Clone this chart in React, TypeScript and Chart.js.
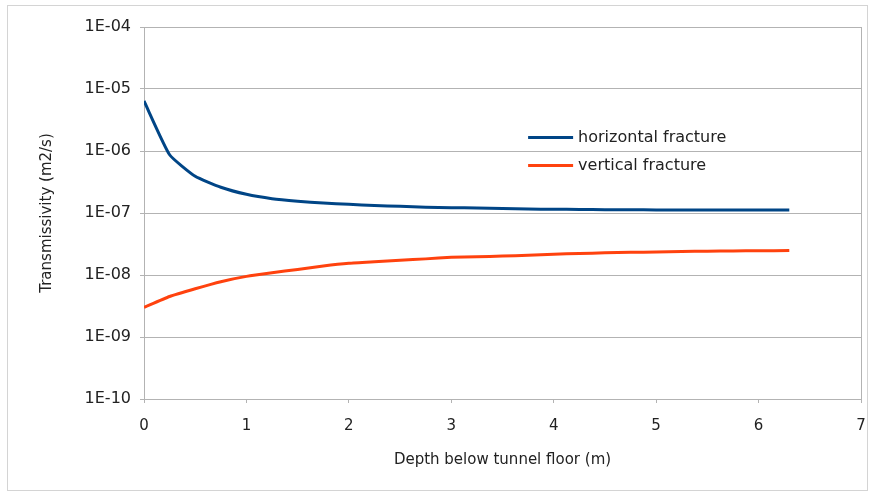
import React, { useEffect, useRef } from "react";
import { Chart, registerables } from "chart.js";

Chart.register(...registerables);

const depths = [0, 0.25, 0.5, 0.75, 1, 1.25, 1.5, 1.75, 2, 2.25, 2.5, 2.75, 3, 3.25, 3.5, 3.75, 4, 4.25, 4.5, 4.75, 5, 5.25, 5.5, 5.75, 6, 6.3];

const horizontalFracture = [
  6.4e-6, 8.7e-7, 3.9e-7, 2.6e-7, 2.0e-7, 1.7e-7, 1.55e-7, 1.45e-7, 1.38e-7, 1.32e-7,
  1.28e-7, 1.24e-7, 1.22e-7, 1.2e-7, 1.18e-7, 1.16e-7, 1.15e-7, 1.14e-7, 1.13e-7, 1.13e-7,
  1.12e-7, 1.12e-7, 1.12e-7, 1.12e-7, 1.12e-7, 1.12e-7,
];

const verticalFracture = [
  3.0e-9, 4.5e-9, 6.0e-9, 7.8e-9, 9.5e-9, 1.09e-8, 1.23e-8, 1.4e-8, 1.55e-8, 1.64e-8,
  1.73e-8, 1.82e-8, 1.93e-8, 1.97e-8, 2.02e-8, 2.08e-8, 2.17e-8, 2.22e-8, 2.28e-8, 2.32e-8,
  2.35e-8, 2.4e-8, 2.42e-8, 2.44e-8, 2.46e-8, 2.48e-8,
];

const yTickValues = [1e-10, 1e-9, 1e-8, 1e-7, 1e-6, 1e-5, 1e-4];
const seriesLabels = ["horizontal fracture", "vertical fracture"];
const seriesColors = ["#004586", "#ff420e"];

const FONT = "'DejaVu Sans', 'Liberation Sans', sans-serif";

function formatSci(v: number): string {
  const exp = Math.round(Math.log10(v));
  const sign = exp < 0 ? "-" : "+";
  return "1E" + sign + String(Math.abs(exp)).padStart(2, "0");
}

const frameAndLegend = {
  id: "frameAndLegend",
  afterDraw(chart: any) {
    const { ctx, chartArea } = chart;
    ctx.save();
    ctx.strokeStyle = "#b3b3b3";
    ctx.lineWidth = 1;
    ctx.beginPath();
    ctx.moveTo(Math.round(chartArea.right) + 0.5, chartArea.top);
    ctx.lineTo(Math.round(chartArea.right) + 0.5, chartArea.bottom);
    ctx.stroke();

    const xs = chart.scales.x;
    const ys = chart.scales.y;
    const lx = xs.getPixelForValue(3.75);
    const ly0 = ys.getPixelForValue(1.65e-6);
    const rowH = 28;
    ctx.font = "16px " + FONT;
    ctx.textBaseline = "middle";
    ctx.textAlign = "left";
    chart.data.datasets.forEach((ds: any, i: number) => {
      const y = ly0 + i * rowH;
      ctx.strokeStyle = ds.borderColor;
      ctx.lineWidth = 3;
      ctx.beginPath();
      ctx.moveTo(lx, y);
      ctx.lineTo(lx + 45, y);
      ctx.stroke();
      ctx.fillStyle = "#222";
      ctx.fillText(ds.label, lx + 50, y);
    });
    ctx.restore();
  },
};

export default function App() {
  const ref = useRef<HTMLCanvasElement | null>(null);

  useEffect(() => {
    if (!ref.current) return;
    const chart = new Chart(ref.current, {
      type: "line",
      data: {
        datasets: [
          {
            label: seriesLabels[0],
            data: depths.map((d, i) => ({ x: d, y: horizontalFracture[i] })),
            borderColor: seriesColors[0],
            backgroundColor: seriesColors[0],
            borderWidth: 3,
            pointRadius: 0,
            tension: 0.15,
          },
          {
            label: seriesLabels[1],
            data: depths.map((d, i) => ({ x: d, y: verticalFracture[i] })),
            borderColor: seriesColors[1],
            backgroundColor: seriesColors[1],
            borderWidth: 3,
            pointRadius: 0,
            tension: 0.15,
          },
        ],
      },
      options: {
        responsive: false,
        animation: false,
        layout: { padding: { left: 38, right: 12, top: 27, bottom: 26 } },
        plugins: {
          legend: { display: false },
          tooltip: { enabled: false },
        },
        scales: {
          x: {
            type: "linear",
            min: 0,
            max: 7,
            ticks: {
              stepSize: 1,
              padding: 14,
              color: "#222",
              font: { family: FONT, size: 15 },
            },
            grid: {
              drawOnChartArea: false,
              drawTicks: true,
              tickLength: 4,
              color: "#b3b3b3",
            },
            border: { display: true, color: "#b3b3b3" },
            title: {
              display: true,
              text: "Depth below tunnel floor (m)",
              color: "#222",
              font: { family: FONT, size: 15 },
              padding: { top: 0, bottom: 0 },
            },
            afterFit: (s: any) => {
              s.height = 70;
              s.paddingLeft = 0;
              s.paddingRight = 0;
            },
          },
          y: {
            type: "logarithmic",
            min: 1e-10,
            max: 1e-4,
            afterBuildTicks: (s: any) => {
              s.ticks = yTickValues.map((v) => ({ value: v }));
            },
            ticks: {
              callback: (v: any) => formatSci(Number(v)),
              padding: 9,
              color: "#222",
              font: { family: FONT, size: 16 },
            },
            grid: {
              color: "#b3b3b3",
              tickLength: 4,
            },
            border: { display: true, color: "#b3b3b3" },
            title: {
              display: true,
              text: "Transmissivity (m2/s)",
              color: "#222",
              font: { family: FONT, size: 15 },
              padding: { top: 0, bottom: 0 },
            },
            afterFit: (s: any) => {
              s.width = 106;
              s.paddingTop = 0;
              s.paddingBottom = 0;
            },
          },
        },
      },
      plugins: [frameAndLegend],
    });
    return () => chart.destroy();
  }, []);

  return (
    <div
      style={{
        position: "fixed",
        left: 0,
        top: 0,
        width: 873,
        height: 495,
        background: "#fff",
      }}
    >
      <div
        style={{
          position: "absolute",
          left: 7,
          top: 5,
          width: 861,
          height: 486,
          border: "1px solid #d4d4d4",
          boxSizing: "border-box",
        }}
      />
      <canvas ref={ref} width={873} height={495} style={{ position: "absolute", left: 0, top: 0, display: "block" }} />
    </div>
  );
}
